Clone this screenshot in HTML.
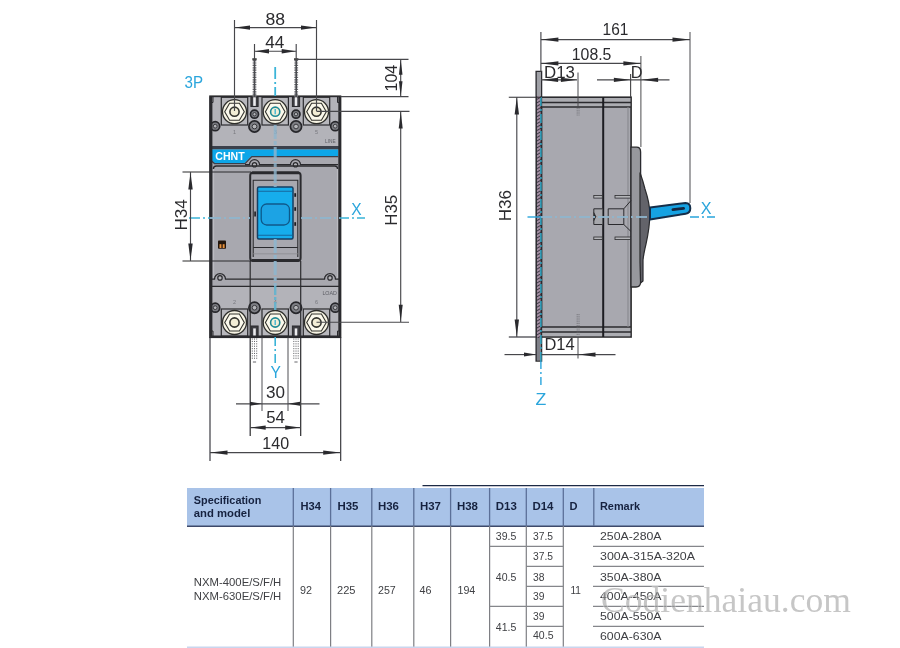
<!DOCTYPE html>
<html><head><meta charset="utf-8"><title>NXM dimensions</title>
<style>html,body{margin:0;padding:0;background:#fff;}svg{display:block}</style></head><body>
<svg width="900" height="648" viewBox="0 0 900 648">
<rect width="900" height="648" fill="#ffffff"/>
<filter id="soft" x="0" y="0" width="900" height="648" filterUnits="userSpaceOnUse"><feGaussianBlur stdDeviation="0.38"/></filter>
<g filter="url(#soft)">
<defs><pattern id="hatch" width="3" height="3" patternUnits="userSpaceOnUse" patternTransform="rotate(-30)"><rect width="3" height="3" fill="#a58fa3"/><line x1="0" y1="0" x2="3" y2="0" stroke="#2e2e38" stroke-width="1.7"/></pattern></defs>
<rect x="210.3" y="96.5" width="129.9" height="240.5" fill="#a8a8af" stroke="#2b2b2e" stroke-width="2.2"/>
<rect x="210.8" y="97.3" width="128.9" height="49.5" fill="#b3b3b9"/>
<rect x="210.8" y="286" width="128.9" height="50.2" fill="#b3b3b9"/>
<path d="M213,96.5 v6 h-2.2 v4" fill="none" stroke="#2b2b2e" stroke-width="1"/>
<path d="M337.5,96.5 v6 h2.2 v4" fill="none" stroke="#2b2b2e" stroke-width="1"/>
<path d="M213,337 v-6 h-2.2 v-4" fill="none" stroke="#2b2b2e" stroke-width="1"/>
<path d="M337.5,337 v-6 h2.2 v-4" fill="none" stroke="#2b2b2e" stroke-width="1"/>
<rect x="221.3" y="97.3" width="26.4" height="27.7" fill="#b8b8bd" stroke="#2b2b2e" stroke-width="1.2"/>
<circle cx="234.5" cy="111.7" r="12" fill="#f7f4e4" stroke="#2e2e2c" stroke-width="1.3"/>
<polygon points="244.30,111.70 239.40,120.19 229.60,120.19 224.70,111.70 229.60,103.21 239.40,103.21" fill="#fbf9ec" stroke="#34342f" stroke-width="1.1"/>
<circle cx="234.5" cy="111.7" r="4.6" fill="#f3eed6" stroke="#34342f" stroke-width="1.6"/>
<rect x="262.0" y="97.3" width="26.4" height="27.7" fill="#b8b8bd" stroke="#2b2b2e" stroke-width="1.2"/>
<circle cx="275.2" cy="111.7" r="12" fill="#f7f4e4" stroke="#2e2e2c" stroke-width="1.3"/>
<polygon points="285.00,111.70 280.10,120.19 270.30,120.19 265.40,111.70 270.30,103.21 280.10,103.21" fill="#fbf9ec" stroke="#34342f" stroke-width="1.1"/>
<circle cx="275.2" cy="111.7" r="4.6" fill="#f3eed6" stroke="#1f8a96" stroke-width="1.6"/>
<line x1="275.2" y1="109.10000000000001" x2="275.2" y2="114.3" stroke="#35b3d4" stroke-width="1.3"/>
<rect x="303.3" y="97.3" width="26.4" height="27.7" fill="#b8b8bd" stroke="#2b2b2e" stroke-width="1.2"/>
<circle cx="316.5" cy="111.7" r="12" fill="#f7f4e4" stroke="#2e2e2c" stroke-width="1.3"/>
<polygon points="326.30,111.70 321.40,120.19 311.60,120.19 306.70,111.70 311.60,103.21 321.40,103.21" fill="#fbf9ec" stroke="#34342f" stroke-width="1.1"/>
<circle cx="316.5" cy="111.7" r="4.6" fill="#f3eed6" stroke="#34342f" stroke-width="1.6"/>
<rect x="221.3" y="309" width="26.4" height="27.2" fill="#b8b8bd" stroke="#2b2b2e" stroke-width="1.2"/>
<circle cx="234.5" cy="322.5" r="12" fill="#f7f4e4" stroke="#2e2e2c" stroke-width="1.3"/>
<polygon points="244.30,322.50 239.40,330.99 229.60,330.99 224.70,322.50 229.60,314.01 239.40,314.01" fill="#fbf9ec" stroke="#34342f" stroke-width="1.1"/>
<circle cx="234.5" cy="322.5" r="4.6" fill="#f3eed6" stroke="#34342f" stroke-width="1.6"/>
<rect x="262.0" y="309" width="26.4" height="27.2" fill="#b8b8bd" stroke="#2b2b2e" stroke-width="1.2"/>
<circle cx="275.2" cy="322.5" r="12" fill="#f7f4e4" stroke="#2e2e2c" stroke-width="1.3"/>
<polygon points="285.00,322.50 280.10,330.99 270.30,330.99 265.40,322.50 270.30,314.01 280.10,314.01" fill="#fbf9ec" stroke="#34342f" stroke-width="1.1"/>
<circle cx="275.2" cy="322.5" r="4.6" fill="#f3eed6" stroke="#1f8a96" stroke-width="1.6"/>
<line x1="275.2" y1="319.9" x2="275.2" y2="325.1" stroke="#35b3d4" stroke-width="1.3"/>
<rect x="303.3" y="309" width="26.4" height="27.2" fill="#b8b8bd" stroke="#2b2b2e" stroke-width="1.2"/>
<circle cx="316.5" cy="322.5" r="12" fill="#f7f4e4" stroke="#2e2e2c" stroke-width="1.3"/>
<polygon points="326.30,322.50 321.40,330.99 311.60,330.99 306.70,322.50 311.60,314.01 321.40,314.01" fill="#fbf9ec" stroke="#34342f" stroke-width="1.1"/>
<circle cx="316.5" cy="322.5" r="4.6" fill="#f3eed6" stroke="#34342f" stroke-width="1.6"/>
<rect x="250.9" y="97.3" width="7.2" height="9.2" fill="#3c3c42" stroke="#2b2b2e" stroke-width="1"/>
<rect x="253.2" y="97.3" width="2.6" height="8.6" fill="#ececee"/>
<circle cx="254.5" cy="114.2" r="4.0" fill="#7d7e84" stroke="#26262a" stroke-width="1.7"/>
<circle cx="254.5" cy="114.2" r="1.68" fill="#b4b5b9" stroke="#303034" stroke-width="0.9"/>
<circle cx="254.5" cy="126.5" r="5.6" fill="#7d7e84" stroke="#26262a" stroke-width="1.7"/>
<circle cx="254.5" cy="126.5" r="2.35" fill="#b4b5b9" stroke="#303034" stroke-width="0.9"/>
<rect x="250.9" y="326" width="7.2" height="10.2" fill="#3c3c42" stroke="#2b2b2e" stroke-width="1"/>
<rect x="253.2" y="328.4" width="2.6" height="8.2" fill="#ececee"/>
<circle cx="254.5" cy="307.7" r="5.6" fill="#7d7e84" stroke="#26262a" stroke-width="1.7"/>
<circle cx="254.5" cy="307.7" r="2.35" fill="#b4b5b9" stroke="#303034" stroke-width="0.9"/>
<rect x="292.4" y="97.3" width="7.2" height="9.2" fill="#3c3c42" stroke="#2b2b2e" stroke-width="1"/>
<rect x="294.7" y="97.3" width="2.6" height="8.6" fill="#ececee"/>
<circle cx="296" cy="114.2" r="4.0" fill="#7d7e84" stroke="#26262a" stroke-width="1.7"/>
<circle cx="296" cy="114.2" r="1.68" fill="#b4b5b9" stroke="#303034" stroke-width="0.9"/>
<circle cx="296" cy="126.5" r="5.6" fill="#7d7e84" stroke="#26262a" stroke-width="1.7"/>
<circle cx="296" cy="126.5" r="2.35" fill="#b4b5b9" stroke="#303034" stroke-width="0.9"/>
<rect x="292.4" y="326" width="7.2" height="10.2" fill="#3c3c42" stroke="#2b2b2e" stroke-width="1"/>
<rect x="294.7" y="328.4" width="2.6" height="8.2" fill="#ececee"/>
<circle cx="296" cy="307.7" r="5.6" fill="#7d7e84" stroke="#26262a" stroke-width="1.7"/>
<circle cx="296" cy="307.7" r="2.35" fill="#b4b5b9" stroke="#303034" stroke-width="0.9"/>
<circle cx="215.2" cy="126.2" r="4.5" fill="#7d7e84" stroke="#26262a" stroke-width="1.7"/>
<circle cx="215.2" cy="126.2" r="1.89" fill="#b4b5b9" stroke="#303034" stroke-width="0.9"/>
<circle cx="215.2" cy="307.7" r="4.5" fill="#7d7e84" stroke="#26262a" stroke-width="1.7"/>
<circle cx="215.2" cy="307.7" r="1.89" fill="#b4b5b9" stroke="#303034" stroke-width="0.9"/>
<circle cx="335.2" cy="126.2" r="4.5" fill="#7d7e84" stroke="#26262a" stroke-width="1.7"/>
<circle cx="335.2" cy="126.2" r="1.89" fill="#b4b5b9" stroke="#303034" stroke-width="0.9"/>
<circle cx="335.2" cy="307.7" r="4.5" fill="#7d7e84" stroke="#26262a" stroke-width="1.7"/>
<circle cx="335.2" cy="307.7" r="1.89" fill="#b4b5b9" stroke="#303034" stroke-width="0.9"/>
<text x="234.5" y="134" font-size="5.5" fill="#77787e" font-weight="normal" text-anchor="middle" font-family="'Liberation Sans', sans-serif" >1</text>
<text x="275.2" y="134" font-size="5.5" fill="#77787e" font-weight="normal" text-anchor="middle" font-family="'Liberation Sans', sans-serif" >3</text>
<text x="316.5" y="134" font-size="5.5" fill="#77787e" font-weight="normal" text-anchor="middle" font-family="'Liberation Sans', sans-serif" >5</text>
<text x="234.5" y="303.5" font-size="5.5" fill="#77787e" font-weight="normal" text-anchor="middle" font-family="'Liberation Sans', sans-serif" >2</text>
<text x="275.2" y="303.5" font-size="5.5" fill="#77787e" font-weight="normal" text-anchor="middle" font-family="'Liberation Sans', sans-serif" >4</text>
<text x="316.5" y="303.5" font-size="5.5" fill="#77787e" font-weight="normal" text-anchor="middle" font-family="'Liberation Sans', sans-serif" >6</text>
<text x="325" y="142.5" font-size="5" fill="#5c5d64" font-weight="normal" text-anchor="start" font-family="'Liberation Sans', sans-serif" textLength="10.6" lengthAdjust="spacingAndGlyphs" >LINE</text>
<text x="322.4" y="294.6" font-size="5" fill="#5c5d64" font-weight="normal" text-anchor="start" font-family="'Liberation Sans', sans-serif" textLength="14.6" lengthAdjust="spacingAndGlyphs" >LOAD</text>
<rect x="210.8" y="146" width="128.9" height="3.4" fill="#3b3f4b"/>
<polygon points="212,149.4 338.2,149.4 338.2,156 251.5,156 244.5,163 214.5,163 212,160.5" fill="#0ea6e8"/>
<polyline points="338.2,156.6 251.8,156.6 245,163.6 214.5,163.6 211.5,161" fill="none" stroke="#3b3f4b" stroke-width="1.3"/>
<text x="215.3" y="159.7" font-size="10.2" fill="#ffffff" font-weight="bold" text-anchor="start" font-family="'Liberation Sans', sans-serif" textLength="29.4" lengthAdjust="spacingAndGlyphs" >CHNT</text>
<path d="M245,164.6 H249.5 A5,5 0 0 1 259.5,164.6 H290.5 A5,5 0 0 1 300.5,164.6 H338" fill="none" stroke="#2b2b2e" stroke-width="1.2"/>
<circle cx="254.5" cy="164.8" r="2.2" fill="#b5b5ba" stroke="#2b2b2e" stroke-width="1.2"/>
<circle cx="295.5" cy="164.8" r="2.2" fill="#b5b5ba" stroke="#2b2b2e" stroke-width="1.2"/>
<path d="M213.4,169 Q213.4,166 216.4,166 H334.6 Q337.6,166 337.6,169" fill="none" stroke="#2b2b2e" stroke-width="1.4"/>
<line x1="213.6" y1="169" x2="213.6" y2="278" stroke="#c3c3c8" stroke-width="0.8" />
<line x1="337.4" y1="169" x2="337.4" y2="278" stroke="#c3c3c8" stroke-width="0.8" />
<line x1="211" y1="96.5" x2="211" y2="337" stroke="#2b2b2e" stroke-width="2.8" />
<line x1="339.7" y1="96.5" x2="339.7" y2="337" stroke="#2b2b2e" stroke-width="2.8" />
<line x1="210" y1="336.6" x2="340.5" y2="336.6" stroke="#2b2b2e" stroke-width="2.4" />
<path d="M211,279.2 H214.5 A5.5,5.5 0 0 1 225.5,279.2 H324.5 A5.5,5.5 0 0 1 335.5,279.2 H340" fill="none" stroke="#2b2b2e" stroke-width="1.3"/>
<circle cx="220" cy="277.9" r="2.2" fill="#b5b5ba" stroke="#2b2b2e" stroke-width="1.2"/>
<circle cx="330" cy="277.9" r="2.2" fill="#b5b5ba" stroke="#2b2b2e" stroke-width="1.2"/>
<line x1="210" y1="286.3" x2="340.5" y2="286.3" stroke="#2b2b2e" stroke-width="1.3" />
<rect x="250.2" y="172.4" width="50.4" height="88.6" rx="3" fill="#a8a8af" stroke="#2b2b2e" stroke-width="2"/>
<line x1="252" y1="172.8" x2="299" y2="172.8" stroke="#2b2b2e" stroke-width="2.8" />
<line x1="252" y1="260.4" x2="299" y2="260.4" stroke="#2b2b2e" stroke-width="2.8" />
<path d="M253.2,257 V180.3 H297.8 V257" fill="none" stroke="#2b2b2e" stroke-width="1.1"/>
<line x1="253.2" y1="247.5" x2="297.8" y2="247.5" stroke="#2b2b2e" stroke-width="1.1" />
<line x1="253.2" y1="253.8" x2="297.8" y2="253.8" stroke="#8b8c92" stroke-width="0.8" />
<rect x="257.5" y="187" width="35.5" height="52" rx="1.5" fill="#14adec" stroke="#123f63" stroke-width="1.5"/>
<line x1="258" y1="191.2" x2="292.5" y2="191.2" stroke="#12679c" stroke-width="1.1" />
<line x1="258" y1="235.3" x2="292.5" y2="235.3" stroke="#12679c" stroke-width="1.1" />
<rect x="261.2" y="204" width="28.3" height="21" rx="5.5" fill="#1ba3e4" stroke="#11598a" stroke-width="1.3"/>
<rect x="294.3" y="193.2" width="1.8" height="3.6" fill="#1c1c20"/>
<rect x="294.3" y="207.2" width="1.8" height="3.6" fill="#1c1c20"/>
<rect x="294.3" y="222.2" width="1.8" height="3.6" fill="#1c1c20"/>
<rect x="254.3" y="211.5" width="1.6" height="5" fill="#1c1c20"/>
<rect x="218" y="240.6" width="8" height="8.2" rx="0.8" fill="#24150c"/>
<rect x="219.5" y="244.2" width="1.9" height="3.8" fill="#e8923c"/>
<rect x="222.7" y="244.2" width="1.9" height="3.8" fill="#e8923c"/>
<line x1="250.2" y1="261" x2="250.2" y2="436" stroke="#2b2b2e" stroke-width="1.2" />
<line x1="300.7" y1="261" x2="300.7" y2="436" stroke="#2b2b2e" stroke-width="1.2" />
<line x1="275.2" y1="67" x2="275.2" y2="96" stroke="#3ab4d8" stroke-width="1.8" stroke-dasharray="12 3 2 3"/>
<line x1="275.2" y1="125" x2="275.2" y2="187" stroke="#8fb6ce" stroke-width="3" stroke-dasharray="14 2 4 2" opacity="0.8"/>
<line x1="275.2" y1="239" x2="275.2" y2="286" stroke="#8fb6ce" stroke-width="3" stroke-dasharray="14 2 4 2" opacity="0.9"/>
<line x1="275.2" y1="286" x2="275.2" y2="310" stroke="#63b4cf" stroke-width="2.4" stroke-dasharray="9 2 3 2" opacity="0.9"/>
<line x1="275.2" y1="337" x2="275.2" y2="364" stroke="#3ab4d8" stroke-width="1.6" stroke-dasharray="9 3 2 3"/>
<line x1="189" y1="218" x2="210" y2="218" stroke="#3ab4d8" stroke-width="1.6" stroke-dasharray="11 3 2 3"/>
<line x1="210" y1="218" x2="250" y2="218" stroke="#8fb6ce" stroke-width="2.2" stroke-dasharray="11 3 2 3" opacity="0.9"/>
<line x1="301" y1="218" x2="340" y2="218" stroke="#8fb6ce" stroke-width="2.2" stroke-dasharray="11 3 2 3" opacity="0.9"/>
<line x1="340" y1="218" x2="365" y2="218" stroke="#3ab4d8" stroke-width="1.6" stroke-dasharray="9 3 2 3"/>
<text x="351.2" y="214.7" font-size="16.5" fill="#2aa5dc" font-weight="normal" text-anchor="start" font-family="'Liberation Sans', sans-serif" textLength="10.4" lengthAdjust="spacingAndGlyphs" >X</text>
<text x="270.6" y="377.6" font-size="16.5" fill="#2aa5dc" font-weight="normal" text-anchor="start" font-family="'Liberation Sans', sans-serif" textLength="10.4" lengthAdjust="spacingAndGlyphs" >Y</text>
<text x="184.5" y="87.6" font-size="17" fill="#2aa5dc" font-weight="normal" text-anchor="start" font-family="'Liberation Sans', sans-serif" textLength="18.5" lengthAdjust="spacingAndGlyphs" >3P</text>
<line x1="234.5" y1="20" x2="234.5" y2="111" stroke="#47474b" stroke-width="1.15" />
<line x1="316.5" y1="20" x2="316.5" y2="111" stroke="#47474b" stroke-width="1.15" />
<line x1="234.5" y1="27.6" x2="316.5" y2="27.6" stroke="#47474b" stroke-width="1.15" />
<polygon points="235,27.6 250,25.400000000000002 250,29.8" fill="#2b2b2e"/>
<polygon points="316,27.6 301,25.400000000000002 301,29.8" fill="#2b2b2e"/>
<text x="265.5" y="24.5" font-size="15.6" fill="#2b2b2e" font-weight="normal" text-anchor="start" font-family="'Liberation Sans', sans-serif" textLength="19.6" lengthAdjust="spacingAndGlyphs" >88</text>
<line x1="254.5" y1="44" x2="254.5" y2="60" stroke="#47474b" stroke-width="1.15" />
<line x1="296.2" y1="44" x2="296.2" y2="60" stroke="#47474b" stroke-width="1.15" />
<line x1="254.5" y1="51.2" x2="296.2" y2="51.2" stroke="#47474b" stroke-width="1.15" />
<polygon points="255,51.2 269,49.0 269,53.400000000000006" fill="#2b2b2e"/>
<polygon points="295.7,51.2 281.7,49.0 281.7,53.400000000000006" fill="#2b2b2e"/>
<text x="265.3" y="47.7" font-size="15.6" fill="#2b2b2e" font-weight="normal" text-anchor="start" font-family="'Liberation Sans', sans-serif" textLength="19.1" lengthAdjust="spacingAndGlyphs" >44</text>
<line x1="254.5" y1="60" x2="254.5" y2="97" stroke="#6a6b70" stroke-width="3.8" stroke-dasharray="1.2 1.2"/>
<line x1="254.5" y1="60" x2="254.5" y2="97" stroke="#4a4b50" stroke-width="1.6" />
<rect x="252.3" y="58.2" width="4.4" height="1.8" fill="#444"/>
<line x1="296.2" y1="60" x2="296.2" y2="97" stroke="#6a6b70" stroke-width="3.8" stroke-dasharray="1.2 1.2"/>
<line x1="296.2" y1="60" x2="296.2" y2="97" stroke="#4a4b50" stroke-width="1.6" />
<rect x="294.0" y="58.2" width="4.4" height="1.8" fill="#444"/>
<line x1="296.2" y1="59.4" x2="408.5" y2="59.4" stroke="#47474b" stroke-width="1.15" />
<line x1="340.5" y1="96.6" x2="408.5" y2="96.6" stroke="#47474b" stroke-width="1.15" />
<line x1="316.5" y1="111.3" x2="409.5" y2="111.3" stroke="#47474b" stroke-width="1.15" />
<line x1="316.5" y1="322.2" x2="409" y2="322.2" stroke="#47474b" stroke-width="1.15" />
<line x1="400.7" y1="59.4" x2="400.7" y2="96.6" stroke="#47474b" stroke-width="1.15" />
<polygon points="400.7,59.8 398.9,74.8 402.5,74.8" fill="#2b2b2e"/>
<polygon points="400.7,96.2 398.9,81.2 402.5,81.2" fill="#2b2b2e"/>
<line x1="400.7" y1="111.3" x2="400.7" y2="322" stroke="#47474b" stroke-width="1.15" />
<polygon points="400.7,111.6 398.7,128.6 402.7,128.6" fill="#2b2b2e"/>
<polygon points="400.7,321.8 398.7,304.8 402.7,304.8" fill="#2b2b2e"/>
<text transform="translate(397.0,91.5) rotate(-90)" font-size="17" fill="#2b2b2e" font-family="'Liberation Sans', sans-serif" textLength="26.7" lengthAdjust="spacingAndGlyphs">104</text>
<text transform="translate(397.0,225.8) rotate(-90)" font-size="17" fill="#2b2b2e" font-family="'Liberation Sans', sans-serif" textLength="31.0" lengthAdjust="spacingAndGlyphs">H35</text>
<line x1="182.5" y1="172" x2="251" y2="172" stroke="#2b2b2e" stroke-width="1.1" />
<line x1="182.5" y1="261" x2="251" y2="261" stroke="#2b2b2e" stroke-width="1.1" />
<line x1="190.5" y1="172" x2="190.5" y2="261" stroke="#47474b" stroke-width="1.15" />
<polygon points="190.5,172.4 188.3,189.4 192.7,189.4" fill="#2b2b2e"/>
<polygon points="190.5,260.6 188.3,243.60000000000002 192.7,243.60000000000002" fill="#2b2b2e"/>
<text transform="translate(186.5,230.5) rotate(-90)" font-size="17" fill="#2b2b2e" font-family="'Liberation Sans', sans-serif" textLength="31.2" lengthAdjust="spacingAndGlyphs">H34</text>
<line x1="210" y1="337" x2="210" y2="461" stroke="#2b2b2e" stroke-width="1.1" />
<line x1="340.7" y1="337" x2="340.7" y2="461" stroke="#2b2b2e" stroke-width="1.1" />
<line x1="262" y1="337" x2="262" y2="411" stroke="#3a3a3e" stroke-width="0.9" />
<line x1="288" y1="337" x2="288" y2="411" stroke="#3a3a3e" stroke-width="0.9" />
<line x1="252.3" y1="338.5" x2="252.3" y2="359" stroke="#55565a" stroke-width="0.9" stroke-dasharray="1.1 1.3"/>
<line x1="254.5" y1="338.5" x2="254.5" y2="359" stroke="#55565a" stroke-width="0.9" stroke-dasharray="1.1 1.3"/>
<line x1="256.7" y1="338.5" x2="256.7" y2="359" stroke="#55565a" stroke-width="0.9" stroke-dasharray="1.1 1.3"/>
<line x1="252.9" y1="362" x2="256.1" y2="362" stroke="#55565a" stroke-width="0.9" />
<line x1="293.8" y1="338.5" x2="293.8" y2="359" stroke="#55565a" stroke-width="0.9" stroke-dasharray="1.1 1.3"/>
<line x1="296" y1="338.5" x2="296" y2="359" stroke="#55565a" stroke-width="0.9" stroke-dasharray="1.1 1.3"/>
<line x1="298.2" y1="338.5" x2="298.2" y2="359" stroke="#55565a" stroke-width="0.9" stroke-dasharray="1.1 1.3"/>
<line x1="294.4" y1="362" x2="297.6" y2="362" stroke="#55565a" stroke-width="0.9" />
<line x1="236" y1="403.8" x2="319.5" y2="403.8" stroke="#47474b" stroke-width="1.15" />
<polygon points="262,403.8 250,401.8 250,405.8" fill="#2b2b2e"/>
<polygon points="288,403.8 300,401.8 300,405.8" fill="#2b2b2e"/>
<text x="266.1" y="397.8" font-size="15.6" fill="#2b2b2e" font-weight="normal" text-anchor="start" font-family="'Liberation Sans', sans-serif" textLength="19.0" lengthAdjust="spacingAndGlyphs" >30</text>
<line x1="250.2" y1="427.6" x2="300.7" y2="427.6" stroke="#47474b" stroke-width="1.15" />
<polygon points="250.7,427.6 265.7,425.5 265.7,429.70000000000005" fill="#2b2b2e"/>
<polygon points="300.2,427.6 285.2,425.5 285.2,429.70000000000005" fill="#2b2b2e"/>
<text x="266.3" y="423.4" font-size="15.6" fill="#2b2b2e" font-weight="normal" text-anchor="start" font-family="'Liberation Sans', sans-serif" textLength="18.6" lengthAdjust="spacingAndGlyphs" >54</text>
<line x1="210" y1="452.6" x2="340.7" y2="452.6" stroke="#47474b" stroke-width="1.15" />
<polygon points="210.5,452.6 227.5,450.40000000000003 227.5,454.8" fill="#2b2b2e"/>
<polygon points="340.2,452.6 323.2,450.40000000000003 323.2,454.8" fill="#2b2b2e"/>
<text x="262.3" y="448.9" font-size="15.6" fill="#2b2b2e" font-weight="normal" text-anchor="start" font-family="'Liberation Sans', sans-serif" textLength="26.8" lengthAdjust="spacingAndGlyphs" >140</text>
<rect x="536.2" y="71.5" width="5.3" height="289.5" fill="url(#hatch)" stroke="#2b2b2e" stroke-width="1.5"/>
<rect x="536.8" y="72" width="4.2" height="24" fill="#9fa0a6"/>
<rect x="536.8" y="338" width="4.2" height="22.5" fill="#7f8088"/>
<rect x="541.6" y="97.2" width="89.5" height="239.8" fill="#a8a8af" stroke="#2b2b2e" stroke-width="1.6"/>
<rect x="542.4" y="98" width="87.9" height="9" fill="#acadb2"/>
<rect x="542.4" y="327" width="87.9" height="9.2" fill="#acadb2"/>
<line x1="541.6" y1="102.6" x2="631" y2="102.6" stroke="#2b2b2e" stroke-width="1.5" />
<line x1="541.6" y1="107" x2="631" y2="107" stroke="#2b2b2e" stroke-width="1.5" />
<line x1="541.6" y1="327" x2="631" y2="327" stroke="#2b2b2e" stroke-width="1.5" />
<line x1="541.6" y1="332" x2="631" y2="332" stroke="#2b2b2e" stroke-width="1.5" />
<line x1="603.2" y1="97.2" x2="603.2" y2="337" stroke="#1d1d20" stroke-width="2" />
<line x1="628" y1="107" x2="628" y2="327" stroke="#84858b" stroke-width="1" />
<path d="M631,147.2 H636.5 Q640.6,147.2 640.6,152 V282 Q640.6,287 636,287 H631 Z" fill="#97989d" stroke="#2b2b2e" stroke-width="1.3"/>
<path d="M640,172.5 Q643,181 645,189 Q649.6,203 649.8,213 Q650,226 646,244 Q643.6,254 643,260 L643,281 L640.6,283 L640,262 Z" fill="#63646b" stroke="#2b2b2e" stroke-width="1.2"/>
<path d="M650,207.6 L685.6,203 Q690.2,203 690.3,208.2 Q690.3,213 685.6,213.8 L650,219.4 Z" fill="#16a2e2" stroke="#142f4a" stroke-width="2" stroke-linejoin="round"/>
<rect x="671.5" y="207.6" width="13.5" height="2.8" rx="1.4" fill="#12283f" transform="rotate(-6 678 209)"/>
<rect x="593.8" y="195.5" width="8.5" height="2.6" fill="#b4b5b9" stroke="#2b2b2e" stroke-width="0.8"/>
<rect x="615" y="195.5" width="15.5" height="2.6" fill="#b4b5b9" stroke="#2b2b2e" stroke-width="0.8"/>
<rect x="593.8" y="237.0" width="8.5" height="2.6" fill="#b4b5b9" stroke="#2b2b2e" stroke-width="0.8"/>
<rect x="615" y="237.0" width="15.5" height="2.6" fill="#b4b5b9" stroke="#2b2b2e" stroke-width="0.8"/>
<path d="M602.3,208.8 H593.8 V224.5 H602.3" fill="#a6a7ac" stroke="#2b2b2e" stroke-width="1"/>
<path d="M593.8,212.5 L595.8,216.6 L593.8,220.8" fill="#2a2a2e" stroke="#2b2b2e" stroke-width="0.8"/>
<path d="M608.2,208.8 H623.8 L631,200.5 M608.2,224.5 H623.8 L631,231.5 M608.2,208.8 V224.5 M623.8,208.8 V224.5" fill="none" stroke="#2b2b2e" stroke-width="1"/>
<line x1="577.2" y1="108" x2="577.2" y2="115.5" stroke="#6a6b70" stroke-width="0.8" stroke-dasharray="1.2 1"/>
<line x1="579" y1="108" x2="579" y2="115.5" stroke="#6a6b70" stroke-width="0.8" stroke-dasharray="1.2 1"/>
<line x1="577.2" y1="314" x2="577.2" y2="337" stroke="#6a6b70" stroke-width="0.8" stroke-dasharray="1.2 1"/>
<line x1="579" y1="314" x2="579" y2="337" stroke="#6a6b70" stroke-width="0.8" stroke-dasharray="1.2 1"/>
<line x1="540.9" y1="97" x2="540.9" y2="361" stroke="#2fa9c6" stroke-width="1.5" stroke-dasharray="9 3 2 3"/>
<line x1="540.9" y1="361" x2="540.9" y2="386" stroke="#2aa5dc" stroke-width="1.4" stroke-dasharray="8 3 2 3"/>
<line x1="527.5" y1="217" x2="541" y2="217" stroke="#2aa5dc" stroke-width="1.4" />
<line x1="541" y1="217" x2="649" y2="217" stroke="#8fb6ce" stroke-width="2.2" stroke-dasharray="11 3 2 3" opacity="0.9"/>
<line x1="690" y1="217" x2="715" y2="217" stroke="#2aa5dc" stroke-width="1.4" stroke-dasharray="9 3 2 3"/>
<text x="700.7" y="214" font-size="16.5" fill="#2aa5dc" font-weight="normal" text-anchor="start" font-family="'Liberation Sans', sans-serif" textLength="10.8" lengthAdjust="spacingAndGlyphs" >X</text>
<text x="535.6" y="405" font-size="16.5" fill="#2aa5dc" font-weight="normal" text-anchor="start" font-family="'Liberation Sans', sans-serif" textLength="10.8" lengthAdjust="spacingAndGlyphs" >Z</text>
<line x1="540.9" y1="32" x2="540.9" y2="72" stroke="#47474b" stroke-width="1.15" />
<line x1="690" y1="32" x2="690" y2="203" stroke="#4a4a4e" stroke-width="1" />
<line x1="540.9" y1="39.6" x2="690" y2="39.6" stroke="#47474b" stroke-width="1.15" />
<polygon points="541.4,39.6 558.4,37.4 558.4,41.800000000000004" fill="#2b2b2e"/>
<polygon points="689.5,39.6 672.5,37.4 672.5,41.800000000000004" fill="#2b2b2e"/>
<text x="602.6" y="34.9" font-size="15.6" fill="#2b2b2e" font-weight="normal" text-anchor="start" font-family="'Liberation Sans', sans-serif" textLength="25.8" lengthAdjust="spacingAndGlyphs" >161</text>
<line x1="640.9" y1="56" x2="640.9" y2="147" stroke="#4a4a4e" stroke-width="1" />
<line x1="540.9" y1="63.4" x2="640.9" y2="63.4" stroke="#47474b" stroke-width="1.15" />
<polygon points="541.4,63.4 558.4,61.199999999999996 558.4,65.6" fill="#2b2b2e"/>
<polygon points="640.4,63.4 623.4,61.199999999999996 623.4,65.6" fill="#2b2b2e"/>
<text x="571.8" y="59.5" font-size="15.6" fill="#2b2b2e" font-weight="normal" text-anchor="start" font-family="'Liberation Sans', sans-serif" textLength="39.6" lengthAdjust="spacingAndGlyphs" >108.5</text>
<line x1="578" y1="72.5" x2="578" y2="108" stroke="#4a4a4e" stroke-width="1" />
<line x1="541" y1="79.8" x2="577" y2="79.8" stroke="#47474b" stroke-width="1.15" />
<polygon points="541.6,79.8 558.1,77.7 558.1,81.89999999999999" fill="#2b2b2e"/>
<polygon points="577.4,79.8 560.9,77.7 560.9,81.89999999999999" fill="#2b2b2e"/>
<text x="544.0" y="78.1" font-size="15.6" fill="#2b2b2e" font-weight="normal" text-anchor="start" font-family="'Liberation Sans', sans-serif" textLength="30.9" lengthAdjust="spacingAndGlyphs" >D13</text>
<line x1="630.6" y1="74" x2="630.6" y2="97" stroke="#47474b" stroke-width="1.15" />
<line x1="597" y1="79.8" x2="669.5" y2="79.8" stroke="#47474b" stroke-width="1.15" />
<polygon points="630.4,79.8 613.9,77.7 613.9,81.89999999999999" fill="#2b2b2e"/>
<polygon points="641.6,79.8 658.1,77.7 658.1,81.89999999999999" fill="#2b2b2e"/>
<text x="630.7" y="78.3" font-size="15.6" fill="#2b2b2e" font-weight="normal" text-anchor="start" font-family="'Liberation Sans', sans-serif" textLength="11.8" lengthAdjust="spacingAndGlyphs" >D</text>
<line x1="508.8" y1="97.2" x2="541" y2="97.2" stroke="#2b2b2e" stroke-width="1.1" />
<line x1="508.8" y1="337" x2="536" y2="337" stroke="#2b2b2e" stroke-width="1.1" />
<line x1="516.8" y1="97.2" x2="516.8" y2="337" stroke="#47474b" stroke-width="1.15" />
<polygon points="516.8,97.6 514.5999999999999,114.6 519.0,114.6" fill="#2b2b2e"/>
<polygon points="516.8,336.6 514.5999999999999,319.6 519.0,319.6" fill="#2b2b2e"/>
<text transform="translate(511.0,221.3) rotate(-90)" font-size="17" fill="#2b2b2e" font-family="'Liberation Sans', sans-serif" textLength="31.2" lengthAdjust="spacingAndGlyphs">H36</text>
<line x1="578" y1="337" x2="578" y2="358.5" stroke="#4a4a4e" stroke-width="1" />
<line x1="504.5" y1="354.6" x2="536" y2="354.6" stroke="#47474b" stroke-width="1.15" />
<line x1="541.5" y1="354.6" x2="615.5" y2="354.6" stroke="#47474b" stroke-width="1.15" />
<polygon points="536,354.6 524,352.6 524,356.6" fill="#2b2b2e"/>
<polygon points="578.5,354.6 595.5,352.5 595.5,356.70000000000005" fill="#2b2b2e"/>
<text x="544.4" y="350.0" font-size="15.6" fill="#2b2b2e" font-weight="normal" text-anchor="start" font-family="'Liberation Sans', sans-serif" textLength="30.2" lengthAdjust="spacingAndGlyphs" >D14</text>
<rect x="187" y="488" width="517" height="38" fill="#a9c3e8"/>
<line x1="422.5" y1="485.6" x2="704" y2="485.6" stroke="#1f2a44" stroke-width="1.4" />
<line x1="187" y1="526.3" x2="704" y2="526.3" stroke="#3c4a6a" stroke-width="1.4" />
<line x1="293.3" y1="488" x2="293.3" y2="526" stroke="#5b6f98" stroke-width="1.3" />
<line x1="293.3" y1="526" x2="293.3" y2="648" stroke="#7e7f84" stroke-width="1.2" />
<line x1="330.6" y1="488" x2="330.6" y2="526" stroke="#5b6f98" stroke-width="1.3" />
<line x1="330.6" y1="526" x2="330.6" y2="648" stroke="#7e7f84" stroke-width="1.2" />
<line x1="371.8" y1="488" x2="371.8" y2="526" stroke="#5b6f98" stroke-width="1.3" />
<line x1="371.8" y1="526" x2="371.8" y2="648" stroke="#7e7f84" stroke-width="1.2" />
<line x1="413.8" y1="488" x2="413.8" y2="526" stroke="#5b6f98" stroke-width="1.3" />
<line x1="413.8" y1="526" x2="413.8" y2="648" stroke="#7e7f84" stroke-width="1.2" />
<line x1="450.6" y1="488" x2="450.6" y2="526" stroke="#5b6f98" stroke-width="1.3" />
<line x1="450.6" y1="526" x2="450.6" y2="648" stroke="#7e7f84" stroke-width="1.2" />
<line x1="489.6" y1="488" x2="489.6" y2="526" stroke="#5b6f98" stroke-width="1.3" />
<line x1="489.6" y1="526" x2="489.6" y2="648" stroke="#7e7f84" stroke-width="1.2" />
<line x1="526.3" y1="488" x2="526.3" y2="526" stroke="#5b6f98" stroke-width="1.3" />
<line x1="526.3" y1="526" x2="526.3" y2="648" stroke="#7e7f84" stroke-width="1.2" />
<line x1="563.3" y1="488" x2="563.3" y2="526" stroke="#5b6f98" stroke-width="1.3" />
<line x1="563.3" y1="526" x2="563.3" y2="648" stroke="#7e7f84" stroke-width="1.2" />
<line x1="593.8" y1="488" x2="593.8" y2="526" stroke="#5b6f98" stroke-width="1.3" />
<text x="193.8" y="503.9" font-size="11.5" fill="#16223f" font-weight="bold" text-anchor="start" font-family="'Liberation Sans', sans-serif" textLength="67.5" lengthAdjust="spacingAndGlyphs" >Specification</text>
<text x="193.8" y="517.1" font-size="11.5" fill="#16223f" font-weight="bold" text-anchor="start" font-family="'Liberation Sans', sans-serif" textLength="56.5" lengthAdjust="spacingAndGlyphs" >and model</text>
<text x="300.5" y="510.1" font-size="11.5" fill="#16223f" font-weight="bold" text-anchor="start" font-family="'Liberation Sans', sans-serif" textLength="20.5" lengthAdjust="spacingAndGlyphs" >H34</text>
<text x="337.5" y="510.1" font-size="11.5" fill="#16223f" font-weight="bold" text-anchor="start" font-family="'Liberation Sans', sans-serif" textLength="21" lengthAdjust="spacingAndGlyphs" >H35</text>
<text x="378" y="510.1" font-size="11.5" fill="#16223f" font-weight="bold" text-anchor="start" font-family="'Liberation Sans', sans-serif" textLength="21" lengthAdjust="spacingAndGlyphs" >H36</text>
<text x="420" y="510.1" font-size="11.5" fill="#16223f" font-weight="bold" text-anchor="start" font-family="'Liberation Sans', sans-serif" textLength="21" lengthAdjust="spacingAndGlyphs" >H37</text>
<text x="457" y="510.1" font-size="11.5" fill="#16223f" font-weight="bold" text-anchor="start" font-family="'Liberation Sans', sans-serif" textLength="21" lengthAdjust="spacingAndGlyphs" >H38</text>
<text x="495.8" y="510.1" font-size="11.5" fill="#16223f" font-weight="bold" text-anchor="start" font-family="'Liberation Sans', sans-serif" textLength="21" lengthAdjust="spacingAndGlyphs" >D13</text>
<text x="532.5" y="510.1" font-size="11.5" fill="#16223f" font-weight="bold" text-anchor="start" font-family="'Liberation Sans', sans-serif" textLength="21" lengthAdjust="spacingAndGlyphs" >D14</text>
<text x="569.6" y="510.1" font-size="11.5" fill="#16223f" font-weight="bold" text-anchor="start" font-family="'Liberation Sans', sans-serif" textLength="8" lengthAdjust="spacingAndGlyphs" >D</text>
<text x="600" y="510.1" font-size="11.5" fill="#16223f" font-weight="bold" text-anchor="start" font-family="'Liberation Sans', sans-serif" textLength="40" lengthAdjust="spacingAndGlyphs" >Remark</text>
<text x="193.8" y="585.9" font-size="11.3" fill="#3f4044" font-weight="normal" text-anchor="start" font-family="'Liberation Sans', sans-serif" textLength="87.5" lengthAdjust="spacingAndGlyphs" >NXM-400E/S/F/H</text>
<text x="193.8" y="600" font-size="11.3" fill="#3f4044" font-weight="normal" text-anchor="start" font-family="'Liberation Sans', sans-serif" textLength="87.5" lengthAdjust="spacingAndGlyphs" >NXM-630E/S/F/H</text>
<text x="300" y="593.5" font-size="11.3" fill="#3f4044" font-weight="normal" text-anchor="start" font-family="'Liberation Sans', sans-serif" textLength="12" lengthAdjust="spacingAndGlyphs" >92</text>
<text x="337" y="593.5" font-size="11.3" fill="#3f4044" font-weight="normal" text-anchor="start" font-family="'Liberation Sans', sans-serif" textLength="18.5" lengthAdjust="spacingAndGlyphs" >225</text>
<text x="378" y="593.5" font-size="11.3" fill="#3f4044" font-weight="normal" text-anchor="start" font-family="'Liberation Sans', sans-serif" textLength="17.8" lengthAdjust="spacingAndGlyphs" >257</text>
<text x="419.5" y="593.5" font-size="11.3" fill="#3f4044" font-weight="normal" text-anchor="start" font-family="'Liberation Sans', sans-serif" textLength="12" lengthAdjust="spacingAndGlyphs" >46</text>
<text x="457.5" y="593.5" font-size="11.3" fill="#3f4044" font-weight="normal" text-anchor="start" font-family="'Liberation Sans', sans-serif" textLength="17.8" lengthAdjust="spacingAndGlyphs" >194</text>
<text x="570.5" y="593.5" font-size="11.3" fill="#3f4044" font-weight="normal" text-anchor="start" font-family="'Liberation Sans', sans-serif" textLength="10.5" lengthAdjust="spacingAndGlyphs" >11</text>
<line x1="526.3" y1="546.3" x2="563.3" y2="546.3" stroke="#85868b" stroke-width="1.2" />
<line x1="593" y1="546.3" x2="704" y2="546.3" stroke="#85868b" stroke-width="1.2" />
<line x1="526.3" y1="566.3" x2="563.3" y2="566.3" stroke="#85868b" stroke-width="1.2" />
<line x1="593" y1="566.3" x2="704" y2="566.3" stroke="#85868b" stroke-width="1.2" />
<line x1="526.3" y1="586.3" x2="563.3" y2="586.3" stroke="#85868b" stroke-width="1.2" />
<line x1="593" y1="586.3" x2="704" y2="586.3" stroke="#85868b" stroke-width="1.2" />
<line x1="526.3" y1="606.3" x2="563.3" y2="606.3" stroke="#85868b" stroke-width="1.2" />
<line x1="593" y1="606.3" x2="704" y2="606.3" stroke="#85868b" stroke-width="1.2" />
<line x1="526.3" y1="626.3" x2="563.3" y2="626.3" stroke="#85868b" stroke-width="1.2" />
<line x1="593" y1="626.3" x2="704" y2="626.3" stroke="#85868b" stroke-width="1.2" />
<line x1="489.6" y1="546.3" x2="526.3" y2="546.3" stroke="#85868b" stroke-width="1.2" />
<line x1="489.6" y1="606.3" x2="526.3" y2="606.3" stroke="#85868b" stroke-width="1.2" />
<line x1="187" y1="647.3" x2="704" y2="647.3" stroke="#c9d6ee" stroke-width="1.5" />
<text x="495.8" y="540.3" font-size="11.3" fill="#3f4044" font-weight="normal" text-anchor="start" font-family="'Liberation Sans', sans-serif" textLength="20.5" lengthAdjust="spacingAndGlyphs" >39.5</text>
<text x="495.8" y="581.2" font-size="11.3" fill="#3f4044" font-weight="normal" text-anchor="start" font-family="'Liberation Sans', sans-serif" textLength="20.5" lengthAdjust="spacingAndGlyphs" >40.5</text>
<text x="495.8" y="630.7" font-size="11.3" fill="#3f4044" font-weight="normal" text-anchor="start" font-family="'Liberation Sans', sans-serif" textLength="20.5" lengthAdjust="spacingAndGlyphs" >41.5</text>
<text x="533" y="540.3" font-size="11.3" fill="#3f4044" font-weight="normal" text-anchor="start" font-family="'Liberation Sans', sans-serif" textLength="20" lengthAdjust="spacingAndGlyphs" >37.5</text>
<text x="533" y="560.3" font-size="11.3" fill="#3f4044" font-weight="normal" text-anchor="start" font-family="'Liberation Sans', sans-serif" textLength="20" lengthAdjust="spacingAndGlyphs" >37.5</text>
<text x="533" y="581.2" font-size="11.3" fill="#3f4044" font-weight="normal" text-anchor="start" font-family="'Liberation Sans', sans-serif" textLength="11.5" lengthAdjust="spacingAndGlyphs" >38</text>
<text x="533" y="600.3" font-size="11.3" fill="#3f4044" font-weight="normal" text-anchor="start" font-family="'Liberation Sans', sans-serif" textLength="11.5" lengthAdjust="spacingAndGlyphs" >39</text>
<text x="533" y="620.3" font-size="11.3" fill="#3f4044" font-weight="normal" text-anchor="start" font-family="'Liberation Sans', sans-serif" textLength="11.5" lengthAdjust="spacingAndGlyphs" >39</text>
<text x="533" y="639.3" font-size="11.3" fill="#3f4044" font-weight="normal" text-anchor="start" font-family="'Liberation Sans', sans-serif" textLength="20.5" lengthAdjust="spacingAndGlyphs" >40.5</text>
<text x="600" y="540.3" font-size="11.3" fill="#3f4044" font-weight="normal" text-anchor="start" font-family="'Liberation Sans', sans-serif" textLength="61.5" lengthAdjust="spacingAndGlyphs" >250A-280A</text>
<text x="600" y="560.3" font-size="11.3" fill="#3f4044" font-weight="normal" text-anchor="start" font-family="'Liberation Sans', sans-serif" textLength="95" lengthAdjust="spacingAndGlyphs" >300A-315A-320A</text>
<text x="600" y="581.2" font-size="11.3" fill="#3f4044" font-weight="normal" text-anchor="start" font-family="'Liberation Sans', sans-serif" textLength="61.5" lengthAdjust="spacingAndGlyphs" >350A-380A</text>
<text x="600" y="600.3" font-size="11.3" fill="#3f4044" font-weight="normal" text-anchor="start" font-family="'Liberation Sans', sans-serif" textLength="61.5" lengthAdjust="spacingAndGlyphs" >400A-450A</text>
<text x="600" y="620.3" font-size="11.3" fill="#3f4044" font-weight="normal" text-anchor="start" font-family="'Liberation Sans', sans-serif" textLength="61.5" lengthAdjust="spacingAndGlyphs" >500A-550A</text>
<text x="600" y="639.8" font-size="11.3" fill="#3f4044" font-weight="normal" text-anchor="start" font-family="'Liberation Sans', sans-serif" textLength="61.5" lengthAdjust="spacingAndGlyphs" >600A-630A</text>
<text x="601" y="611.5" font-size="35" font-family="'Liberation Serif', serif" fill="#9a9a9a" fill-opacity="0.56" stroke="#ffffff" stroke-opacity="0.5" stroke-width="0.8" textLength="250" lengthAdjust="spacingAndGlyphs" paint-order="stroke">Codienhaiau.com</text>
</g>
</svg></body></html>
